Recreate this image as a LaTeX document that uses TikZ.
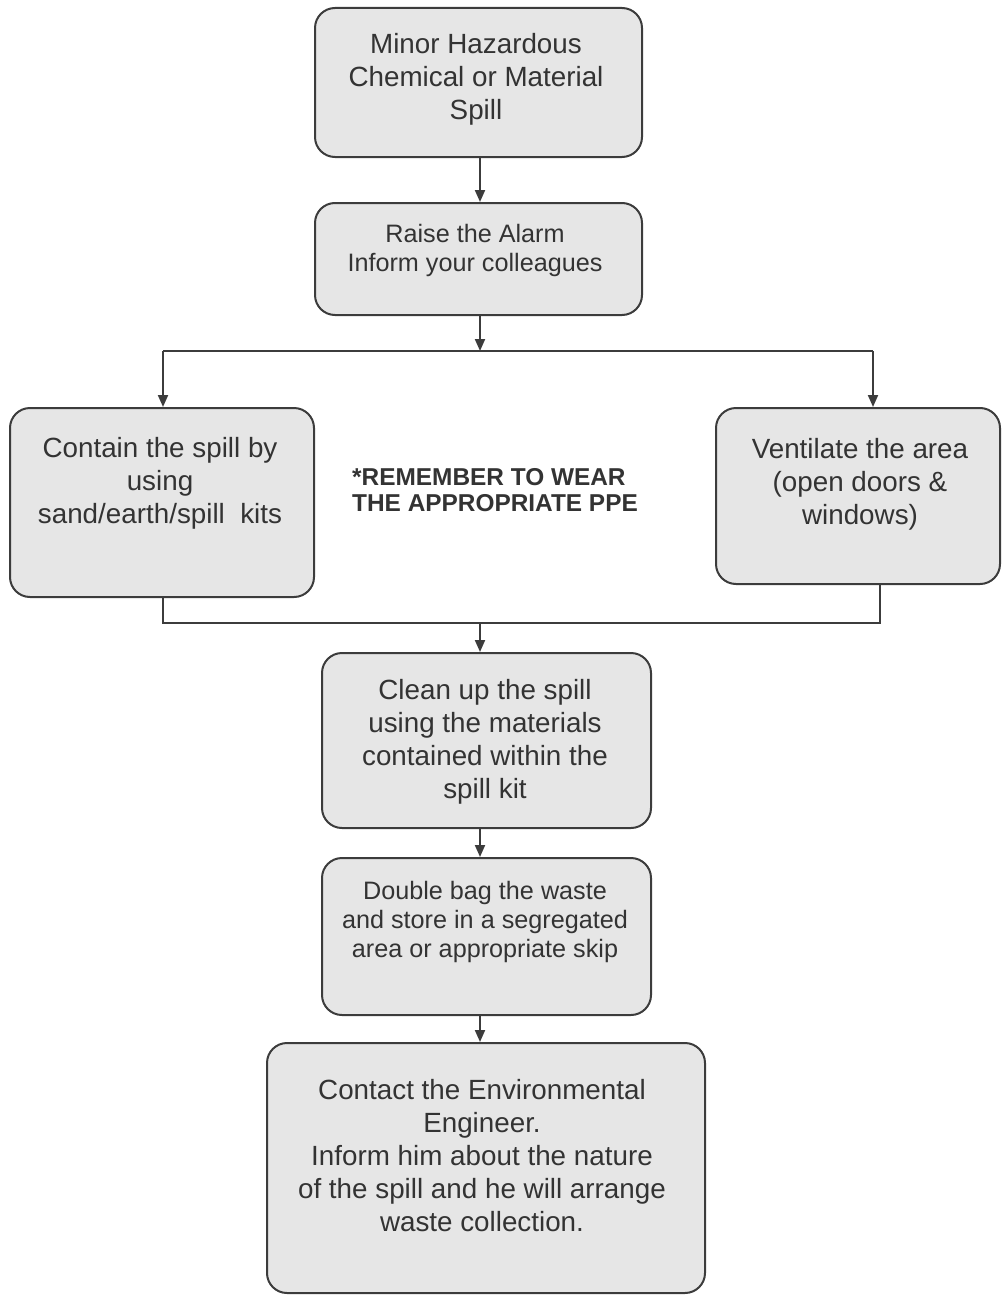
\documentclass[tikz,border=0pt]{standalone}
\usepackage{fontspec}
\setmainfont{Liberation Sans}
\usetikzlibrary{arrows.meta}
\definecolor{edge}{HTML}{3C3C3C}
\definecolor{boxfill}{HTML}{E6E6E6}
\definecolor{txt}{HTML}{333333}
\begin{document}
\begin{tikzpicture}[x=1pt,y=-1pt,
  stepbox/.style={draw=edge,fill=boxfill,line width=2pt,rounded corners=20pt,inner sep=0pt},
  big/.style={text=txt,align=center,inner sep=0pt,font=\fontsize{27.8}{33}\selectfont},
  small/.style={text=txt,align=center,inner sep=0pt,font=\fontsize{25.2}{29}\selectfont},
  conn/.style={draw=edge,line width=2pt},
  arr/.style={conn,-{Triangle[width=10pt,length=12pt]}}]
\useasboundingbox (0,0) rectangle (1001,1295);
% boxes
\node[stepbox,minimum width=327pt,minimum height=149pt] (b1) at (478.5,82.5) {};
\node[stepbox,minimum width=327pt,minimum height=112pt] (b2) at (478.5,259) {};
\node[stepbox,minimum width=304pt,minimum height=189pt] (b3) at (162,502.5) {};
\node[stepbox,minimum width=284pt,minimum height=176pt] (b4) at (858,496) {};
\node[stepbox,minimum width=329pt,minimum height=175pt] (b5) at (486.5,740.5) {};
\node[stepbox,minimum width=329pt,minimum height=157pt] (b6) at (486.5,936.5) {};
\node[stepbox,minimum width=438pt,minimum height=250pt] (b7) at (486,1168) {};
% texts
\node[big] (t1) at (476,79) {Minor Hazardous\\Chemical or Material\\Spill};
\node[small] (t2) at (475,250) {Raise the Alarm\\Inform your colleagues};
\node[big] (t3) at (160,483) {Contain the spill by\\using\\sand/earth/spill~~kits};
\node[big] (t4) at (860,484) {Ventilate the area\\(open doors \&\\windows)};
\node[big] (t5) at (485,742) {Clean up the spill\\using the materials\\contained within the\\spill kit};
\node[small] (t6) at (485,922) {Double bag the waste\\and store in a segregated\\area or appropriate skip};
\node[big] (t7) at (482,1156) {Contact the Environmental\\Engineer.\\Inform him about the nature\\of the spill and he will arrange\\waste collection.};
\node[text=txt,align=left,inner sep=0pt,anchor=west,font=\bfseries\fontsize{24.4}{26}\selectfont] (ppe) at (352,490) {*REMEMBER TO WEAR\\THE APPROPRIATE PPE};
% junction coordinates
\coordinate (j1) at (480,351);
\coordinate (cl) at (163,351);
\coordinate (cr) at (873,351);
\coordinate (j2) at (480,623);
\coordinate (bl) at (163,623);
\coordinate (br) at (880,623);
% connectors
\draw[arr] (j1 |- b1.south) -- (j1 |- b2.north);
\draw[arr] (j1 |- b2.south) -- (j1);
\draw[conn] (cl) -- (cr);
\draw[arr] (cl) -- (cl |- b3.north);
\draw[arr] (cr) -- (cr |- b4.north);
\draw[conn] (bl |- b3.south) -- (bl) -- (br) -- (br |- b4.south);
\draw[arr] (j2) -- (j2 |- b5.north);
\draw[arr] (j2 |- b5.south) -- (j2 |- b6.north);
\draw[arr] (j2 |- b6.south) -- (j2 |- b7.north);
\end{tikzpicture}
\end{document}
